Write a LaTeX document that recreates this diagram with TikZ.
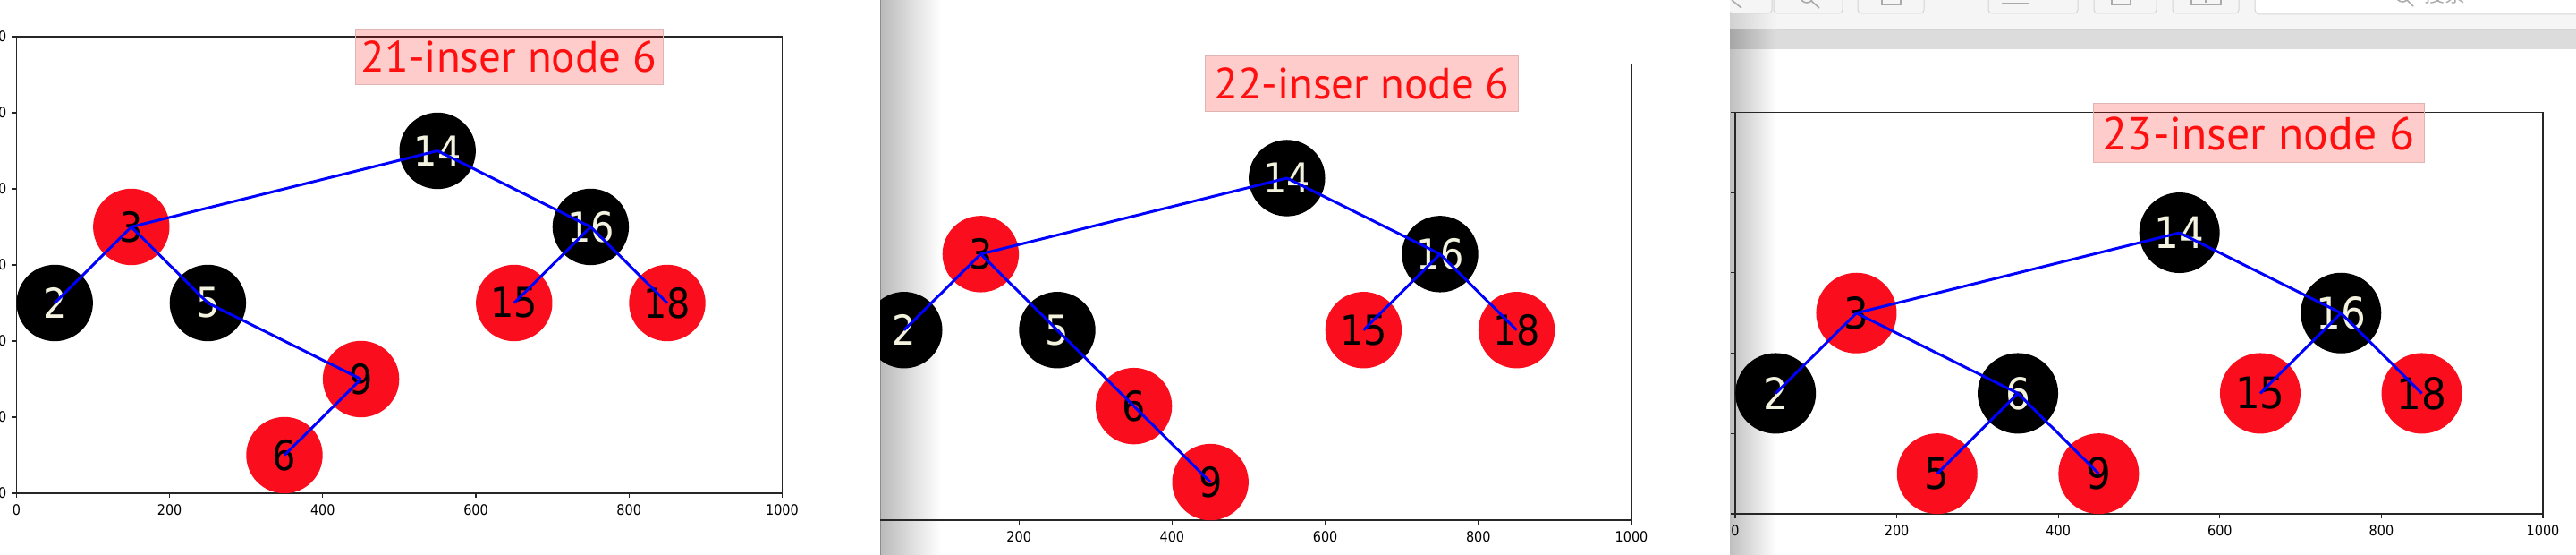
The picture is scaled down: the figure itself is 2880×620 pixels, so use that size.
\documentclass[tikz,border=0pt]{standalone}
\usepackage{fontspec}
\setmainfont{DejaVu Sans Condensed}
\newfontfamily\titlefont{PT Sans}
\newfontfamily\cjkfont{Noto Sans CJK SC}
\definecolor{treered}{RGB}{250,14,30}
\definecolor{cream}{RGB}{242,242,222}
\definecolor{titlered}{RGB}{255,16,16}
\definecolor{boxedge}{RGB}{222,180,180}
\definecolor{barlight}{RGB}{245,245,245}
\definecolor{bardark}{RGB}{220,220,220}
\definecolor{btnedge}{RGB}{212,212,212}
\definecolor{icongray}{RGB}{170,170,170}

% axes box with ticks: #1 = name prefix, #2 = ymax
\newcommand{\axesframe}[2]{%
  \draw[spine] (0,0) rectangle (1000,#2);
  \foreach \tx in {0,200,...,1000} {
    \draw[spine] (\tx,0) -- ++(0,-5pt);
    \node[ticklbl, anchor=north] (#1x\tx) at ([yshift=-12pt]\tx,0) {\tx};
  }
  \foreach \ty in {0,100,...,#2} {
    \draw[spine] (0,\ty) -- ++(-5pt,0);
    \node[ticklbl, anchor=east] (#1y\ty) at ([xshift=-11pt]0,\ty) {\ty};
  }
}

\begin{document}
\begin{tikzpicture}[x=1pt, y=1pt,
    rbnode/.style={circle, inner sep=0pt},
    rednode/.style={rbnode, fill=treered, text=black},
    blknode/.style={rbnode, fill=black, text=cream},
    link/.style={draw=blue, line width=3pt},
    spine/.style={draw=black!85, line width=1.1pt},
    ticklbl/.style={font=\fontsize{16}{18}\selectfont, inner sep=0pt},
    titlebox/.style={draw=boxedge, line width=1pt, fill=red, fill opacity=0.2,
      text opacity=1, text=titlered, inner sep=0pt},
    btn/.style={draw=btnedge, fill=barlight, rounded corners=4pt, line width=1pt},
    icon/.style={draw=icongray, line width=1.6pt},
  ]
  \useasboundingbox (0,0) rectangle (2880,620);
  \fill[white] (0,0) rectangle (2880,620);

  % ---- panel 21: 6 under 9
  \begin{scope}
    \clip (0,0) rectangle (984,620);
    \begin{scope}[shift={(18.4,69)}, x=0.856pt, y=0.85pt,
        rbnode/.append style={minimum size=85.4pt, font=\fontsize{46}{50}\selectfont}]
      \axesframe{A}{600}
      \node[blknode] (A14) at (550,450) {14};
      \node[rednode] (A3)  at (150,350) {3};
      \node[blknode] (A16) at (750,350) {16};
      \node[blknode] (A2)  at (50,250)  {2};
      \node[blknode] (A5)  at (250,250) {5};
      \node[rednode] (A15) at (650,250) {15};
      \node[rednode] (A18) at (850,250) {18};
      \node[rednode] (A9)  at (450,150) {9};
      \node[rednode] (A6)  at (350,50)  {6};
      \draw[link] (A14.center) -- (A3.center);
      \draw[link] (A14.center) -- (A16.center);
      \draw[link] (A3.center) -- (A2.center);
      \draw[link] (A3.center) -- (A5.center);
      \draw[link] (A5.center) -- (A9.center);
      \draw[link] (A9.center) -- (A6.center);
      \draw[link] (A16.center) -- (A15.center);
      \draw[link] (A16.center) -- (A18.center);
    \end{scope}
    \node[titlebox, minimum width=344pt, minimum height=61.6pt,
      font=\titlefont\fontsize{49}{52}\selectfont] (Atitle) at (569,556.5) {21-inser node 6};
  \end{scope}

  % ---- panel 22: rotate right at 9
  \begin{scope}
    \clip (984,0) rectangle (1934,620);
    \shade[left color=black!27, right color=white] (984,0) rectangle (1052,620);
    \draw[black!45, line width=1.5pt] (984.7,0) -- (984.7,620);
    \begin{scope}[shift={(968,39)}, x=0.856pt, y=0.849pt,
        rbnode/.append style={minimum size=85.4pt, font=\fontsize{46}{50}\selectfont}]
      \axesframe{B}{600}
      \node[blknode] (B14) at (550,450) {14};
      \node[rednode] (B3)  at (150,350) {3};
      \node[blknode] (B16) at (750,350) {16};
      \node[blknode] (B2)  at (50,250)  {2};
      \node[blknode] (B5)  at (250,250) {5};
      \node[rednode] (B15) at (650,250) {15};
      \node[rednode] (B18) at (850,250) {18};
      \node[rednode] (B6)  at (350,150) {6};
      \node[rednode] (B9)  at (450,50)  {9};
      \draw[link] (B14.center) -- (B3.center);
      \draw[link] (B14.center) -- (B16.center);
      \draw[link] (B3.center) -- (B2.center);
      \draw[link] (B3.center) -- (B5.center);
      \draw[link] (B5.center) -- (B6.center);
      \draw[link] (B6.center) -- (B9.center);
      \draw[link] (B16.center) -- (B15.center);
      \draw[link] (B16.center) -- (B18.center);
    \end{scope}
    \node[titlebox, minimum width=350pt, minimum height=62pt,
      font=\titlefont\fontsize{49}{52}\selectfont] (Btitle) at (1522.5,526.5) {22-inser node 6};
  \end{scope}

  % ---- panel 23: rotate left at 5, recolor
  \begin{scope}
    \clip (1934,0) rectangle (2880,620);
    % viewer toolbar
    \fill[barlight] (1934,588) rectangle (2880,620);
    \fill[bardark] (1934,565) rectangle (2880,587);
    \draw[btnedge, line width=1pt] (1934,587.5) -- (2880,587.5);
    \shade[left color=black!25, right color=white] (1934,0) rectangle (1986,565);
    \shade[left color=black!35, right color=bardark] (1934,565) rectangle (1986,587);
    \shade[left color=black!18, right color=barlight] (1934,588) rectangle (1986,620);
    \draw[btn] (1933,605) rectangle (1981,630);
    \draw[btn] (1983,605) rectangle (2060,630);
    \draw[btn] (2077,605) rectangle (2151,630);
    \draw[btn] (2223,605) rectangle (2323,630);
    \draw[btnedge, line width=1pt] (2287,605) -- (2287,620);
    \draw[btn] (2341,605) rectangle (2411,630);
    \draw[btn] (2429,605) rectangle (2503,630);
    \draw[btn, fill=white, rounded corners=6pt] (2521,604) rectangle (2900,632);
    \draw[icon] (1936,620) -- (1947,611);
    \draw[icon] (2020,624) circle (7);
    \draw[icon] (2025,619) -- (2034,611);
    \draw[icon] (2104,630) |- (2125,615) -- (2125,630);
    \draw[icon] (2238,616) -- (2268,616);
    \draw[icon] (2361,630) |- (2382,615) -- (2382,630);
    \draw[icon] (2450,630) |- (2483,615) -- (2483,630);
    \draw[icon] (2466,617) -- (2466,621);
    \draw[icon] (2686,625) circle (7);
    \draw[icon] (2691,620) -- (2698,613);
    \node[anchor=base, text=icongray, inner sep=0pt,
      font=\cjkfont\fontsize{23}{25}\selectfont] (search) at (2733,617) {搜索};
    \begin{scope}[shift={(1940,46)}, x=0.903pt, y=0.897pt,
        rbnode/.append style={minimum size=90pt, font=\fontsize{48.5}{52}\selectfont}]
      \axesframe{C}{500}
      \node[blknode] (C14) at (550,350) {14};
      \node[rednode] (C3)  at (150,250) {3};
      \node[blknode] (C16) at (750,250) {16};
      \node[blknode] (C2)  at (50,150)  {2};
      \node[blknode] (C6)  at (350,150) {6};
      \node[rednode] (C15) at (650,150) {15};
      \node[rednode] (C18) at (850,150) {18};
      \node[rednode] (C5)  at (250,50)  {5};
      \node[rednode] (C9)  at (450,50)  {9};
      \draw[link] (C14.center) -- (C3.center);
      \draw[link] (C14.center) -- (C16.center);
      \draw[link] (C3.center) -- (C2.center);
      \draw[link] (C3.center) -- (C6.center);
      \draw[link] (C6.center) -- (C5.center);
      \draw[link] (C6.center) -- (C9.center);
      \draw[link] (C16.center) -- (C15.center);
      \draw[link] (C16.center) -- (C18.center);
    \end{scope}
    \node[titlebox, minimum width=370pt, minimum height=66pt,
      font=\titlefont\fontsize{51.7}{55}\selectfont] (Ctitle) at (2525,471) {23-inser node 6};
  \end{scope}
\end{tikzpicture}
\end{document}
